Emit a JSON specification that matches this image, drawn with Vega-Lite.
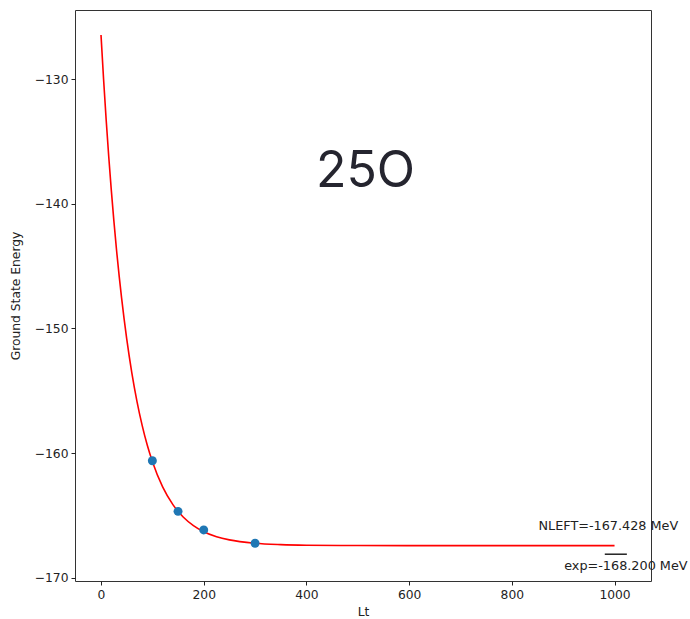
{
  "$schema": "https://vega.github.io/schema/vega-lite/v6.json",
  "width": 576,
  "height": 571,
  "autosize": {"type": "none"},
  "padding": {"left": 75, "top": 10, "right": 39, "bottom": 38},
  "background": "white",
  "config": {
    "view": {"stroke": "#333333", "strokeWidth": 1},
    "axis": {
      "labelFont": "DejaVu Sans", "labelFontSize": 12.3, "labelColor": "#222222",
      "titleFont": "DejaVu Sans", "titleFontSize": 12.3, "titleFontWeight": "normal", "titleColor": "#222222",
      "tickColor": "#222222", "tickSize": 4, "labelPadding": 3, "domain": false, "grid": false
    }
  },
  "datasets": {
    "fit": [
      {"Lt": 0, "E": -126.45}, {"Lt": 5, "E": -130.00}, {"Lt": 10, "E": -133.23},
      {"Lt": 15, "E": -136.18}, {"Lt": 20, "E": -138.88}, {"Lt": 25, "E": -141.34},
      {"Lt": 30, "E": -143.60}, {"Lt": 40, "E": -147.53}, {"Lt": 50, "E": -150.82},
      {"Lt": 60, "E": -153.56}, {"Lt": 70, "E": -155.85}, {"Lt": 80, "E": -157.76},
      {"Lt": 90, "E": -159.36}, {"Lt": 100, "E": -160.68}, {"Lt": 120, "E": -162.72},
      {"Lt": 140, "E": -164.14}, {"Lt": 160, "E": -165.13}, {"Lt": 180, "E": -165.82},
      {"Lt": 200, "E": -166.31}, {"Lt": 225, "E": -166.71}, {"Lt": 250, "E": -166.97},
      {"Lt": 300, "E": -167.24}, {"Lt": 350, "E": -167.35}, {"Lt": 400, "E": -167.397},
      {"Lt": 500, "E": -167.423}, {"Lt": 600, "E": -167.427}, {"Lt": 800, "E": -167.428},
      {"Lt": 1000, "E": -167.428}
    ],
    "pts": [
      {"Lt": 100, "E": -160.62}, {"Lt": 150, "E": -164.68},
      {"Lt": 200, "E": -166.17}, {"Lt": 300, "E": -167.24}
    ],
    "exp": [
      {"Lt": 981, "E": -168.12}, {"Lt": 1024, "E": -168.12}
    ],
    "labels": [
      {"Lt": 988, "E": -165.83, "text": "NLEFT=-167.428 MeV"},
      {"Lt": 1022, "E": -169.04, "text": "exp=-168.200 MeV"}
    ],
    "title": [
      {"Lt": 515, "E": -137.45, "text": "25O"}
    ]
  },
  "encoding": {
    "x": {"field": "Lt", "type": "quantitative", "scale": {"domain": [-50.65, 1071], "nice": false, "zero": false},
          "axis": {"title": "Lt", "values": [0, 200, 400, 600, 800, 1000], "format": "d", "titlePadding": 5}},
    "y": {"field": "E", "type": "quantitative", "scale": {"domain": [-170.27, -124.44], "nice": false, "zero": false},
          "axis": {"title": "Ground State Energy", "values": [-170, -160, -150, -140, -130], "labelExpr": "replace(datum.label, '-', '−')", "titlePadding": 12}}
  },
  "layer": [
    {"data": {"name": "fit"}, "mark": {"type": "line", "color": "red", "strokeWidth": 1.6, "interpolate": "monotone"}},
    {"data": {"name": "pts"}, "mark": {"type": "circle", "color": "#1f77b4", "size": 80, "opacity": 1}},
    {"data": {"name": "exp"}, "mark": {"type": "line", "color": "#222222", "strokeWidth": 1.5}},
    {"data": {"name": "labels"}, "mark": {"type": "text", "font": "DejaVu Sans", "fontSize": 12.8, "color": "#222222", "align": "center", "baseline": "middle"},
     "encoding": {"text": {"field": "text"}}},
    {"data": {"name": "title"}, "mark": {"type": "text", "font": "Inter", "fontSize": 50, "color": "#25252f", "align": "center", "baseline": "middle"},
     "encoding": {"text": {"field": "text"}}}
  ]
}
